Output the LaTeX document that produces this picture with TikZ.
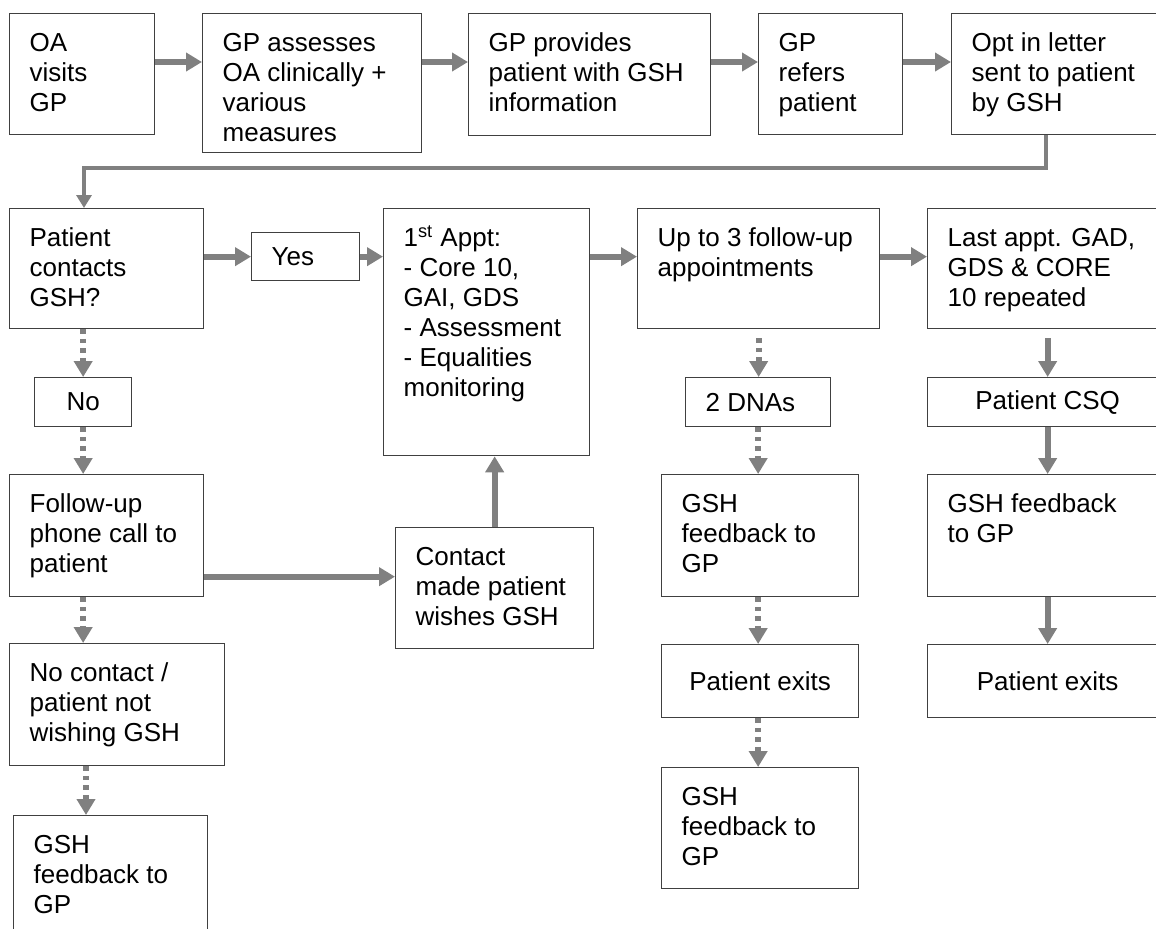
\documentclass[tikz,border=0pt]{standalone}
\usepackage{fontspec}
\setmainfont{Liberation Sans}
\usetikzlibrary{arrows.meta}
\definecolor{boxgray}{HTML}{404040}
\definecolor{arrgray}{HTML}{808080}
\newdimen\unitpx \unitpx=0.5pt
\newcommand{\boxtxt}[3]{\parbox[c][\dimexpr#2\unitpx-16.6pt\relax][t]{\dimexpr#1\unitpx-20pt\relax}{\raggedright\strut#3}}
\newcommand{\midtxt}[2]{\parbox{\dimexpr#1\unitpx-20pt\relax}{\raggedright#2}}
\newcommand{\ctrtxt}[2]{\parbox{\dimexpr#1\unitpx-20pt\relax}{\centering#2}}
\tikzset{
  blk/.style={draw=boxgray, line width=0.65pt, anchor=north west, inner xsep=10pt, inner ysep=8.3pt,
    font=\fontsize{13pt}{15pt}\selectfont},
  mid/.style={inner ysep=1pt, minimum height=#1},
  flow/.style={draw=arrgray, line width=3pt, -{Triangle[width=9pt,length=8pt]}},
  flowdot/.style={flow, dash pattern=on 2.25pt off 2.5pt},
  link/.style={draw=arrgray, line width=1.75pt, -{Triangle[width=7.5pt,length=6.5pt]}}
}
\begin{document}
\begin{tikzpicture}[x=0.5pt,y=-0.5pt]%[every node/.style={draw}]
\useasboundingbox (0,0) rectangle (1156,928);
\node[blk] (oa) at (9,13) {\boxtxt{145}{121}{OA\\visits\\GP}};
\node[blk] (assess) at (202,13) {\boxtxt{219}{139}{GP assesses\\OA clinically +\\various\\measures}};
\node[blk] (info) at (468,13) {\boxtxt{242}{122}{GP provides\\patient with GSH\\information}};
\node[blk] (refer) at (758,13) {\boxtxt{144}{121}{GP\\refers\\patient}};
\node[blk] (optin) at (951,13) {\boxtxt{216}{121}{Opt in letter\\sent to patient\\by GSH}};
\node[blk] (contacts) at (9,208) {\boxtxt{194}{120}{Patient\\contacts\\GSH?}};
\node[blk, mid=24pt] (yes) at (251,232) {\midtxt{108}{Yes}};
\node[blk] (appt) at (383,208) {\boxtxt{206}{247}{1\textsuperscript{st} Appt:\\- Core 10,\\GAI, GDS\\- Assessment\\- Equalities\\monitoring}};
\node[blk] (upto) at (637,208) {\boxtxt{242}{120}{Up to 3 follow-up\\appointments}};
\node[blk] (last) at (927,208) {\boxtxt{240}{120}{Last appt. GAD,\\GDS \& CORE\\10 repeated}};
\node[blk, mid=24.5pt] (no) at (34,377) {\ctrtxt{97}{No}};
\node[blk, mid=24.5pt] (dna) at (685,377) {\midtxt{145}{2 DNAs}};
\node[blk, mid=24.5pt] (csq) at (927,377) {\ctrtxt{240}{Patient CSQ}};
\node[blk] (phone) at (9,474) {\boxtxt{194}{122}{Follow-up\\phone call to\\patient}};
\node[blk] (made) at (395,527) {\boxtxt{198}{121}{Contact\\made patient\\wishes GSH}};
\node[blk] (fbmid) at (661,474) {\boxtxt{197}{122}{GSH\\feedback to\\GP}};
\node[blk] (fbright) at (927,474) {\boxtxt{240}{122}{GSH feedback\\to GP}};
\node[blk] (nocontact) at (9,643) {\boxtxt{215}{122}{No contact /\\patient not\\wishing GSH}};
\node[blk, mid=36.5pt] (exitmid) at (661,644) {\ctrtxt{197}{Patient exits}};
\node[blk, mid=36.5pt] (exitright) at (927,644) {\ctrtxt{240}{Patient exits}};
\node[blk] (fbleft) at (13,815) {\boxtxt{194}{132}{GSH\\feedback to\\GP}};
\node[blk] (fbbot) at (661,767) {\boxtxt{197}{121}{GSH\\feedback to\\GP}};
\coordinate (turn) at (84,168);
\coordinate (m1) at ([yshift=5.75pt]made.west);
\coordinate (u1) at ([yshift=-4.5pt]upto.south);
\coordinate (l1) at ([yshift=-4.5pt]last.south);
\coordinate (d4) at ([xshift=36.5pt]fbleft.north west);
\draw[flow] ([yshift=-24.5pt]oa.north east) -- ([yshift=-24.5pt]assess.north west);
\draw[flow] ([yshift=-24.5pt]assess.north east) -- ([yshift=-24.5pt]info.north west);
\draw[flow] ([yshift=-24.5pt]info.north east) -- ([yshift=-24.5pt]refer.north west);
\draw[flow] ([yshift=-24.5pt]refer.north east) -- ([yshift=-24.5pt]optin.north west);
\draw[link] ([xshift=47.5pt]optin.south west) |- (turn) -- (turn |- contacts.north);
\draw[flow] (yes.west -| contacts.east) -- (yes.west);
\draw[flow] (yes.east) -- (yes.east -| appt.west);
\draw[flow] (yes.east -| appt.east) -- (yes.east -| upto.west);
\draw[flow] (yes.east -| upto.east) -- (yes.east -| last.west);
\draw[flowdot] (no.north |- contacts.south) -- (no.north);
\draw[flowdot] (no.south) -- (no.south |- phone.north);
\draw[flowdot] (no.south |- phone.south) -- (no.south |- nocontact.north);
\draw[flowdot] (d4 |- nocontact.south) -- (d4);
\draw[flow] (m1 -| phone.east) -- (m1);
\draw[flow] (made.north) -- (made.north |- appt.south);
\draw[flowdot] (u1) -- (u1 |- dna.north);
\draw[flowdot] (dna.south) -- (dna.south |- fbmid.north);
\draw[flowdot] (dna.south |- fbmid.south) -- (dna.south |- exitmid.north);
\draw[flowdot] (dna.south |- exitmid.south) -- (dna.south |- fbbot.north);
\draw[flow] (l1) -- (l1 |- csq.north);
\draw[flow] (csq.south) -- (fbright.north);
\draw[flow] (fbright.south) -- (exitright.north);
\end{tikzpicture}
\end{document}
